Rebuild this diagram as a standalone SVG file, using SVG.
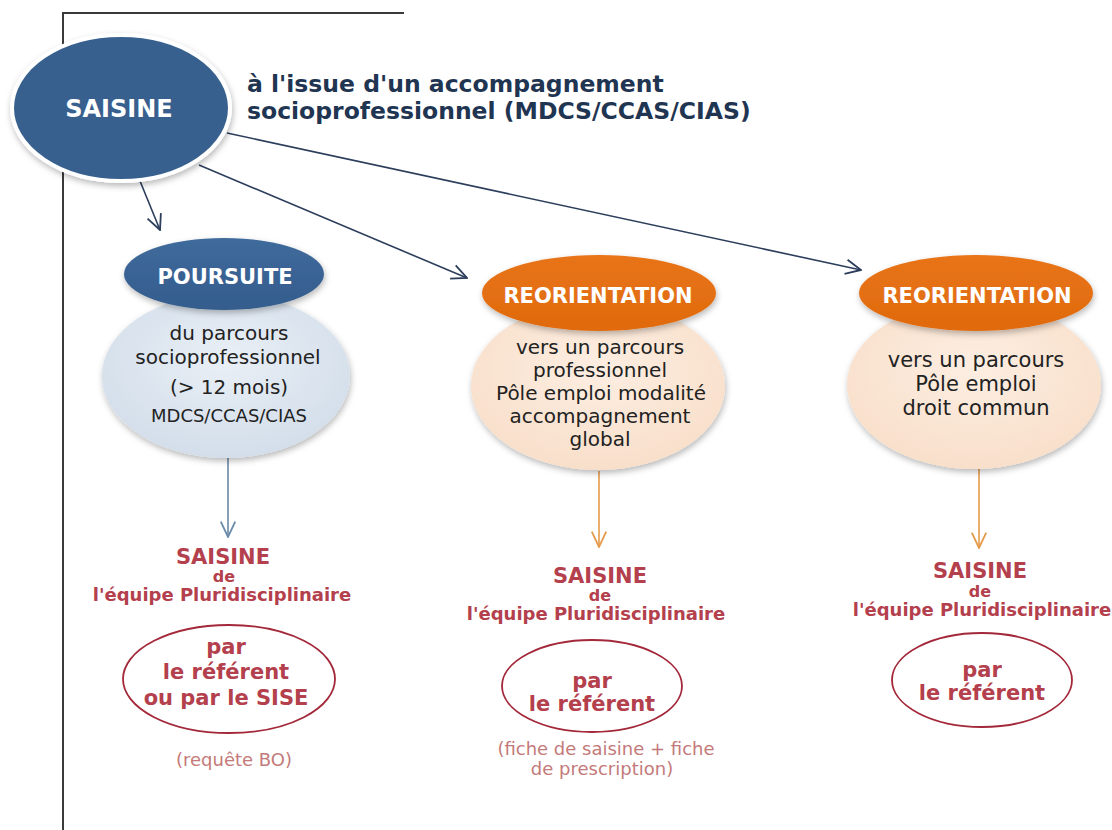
<svg xmlns="http://www.w3.org/2000/svg" width="1112" height="830" viewBox="0 0 1112 830">
<defs>
<style>
text{font-family:"DejaVu Sans",Verdana,sans-serif}
.w{fill:#fff;font-weight:bold;font-size:21px;text-anchor:middle}
.body{fill:#222;text-anchor:middle}
.red{fill:#b3404c;font-weight:bold;text-anchor:middle}
.note{fill:#c47a7a;font-size:18px;text-anchor:middle}
.frame{stroke:#3a3a3a;stroke-width:2;fill:none}
.c-navy{stroke:#2c3e5c;stroke-width:1.6;fill:none}
.c-blue{stroke:#6a8aa8;stroke-width:1.6;fill:none}
.c-orange{stroke:#e59a4a;stroke-width:1.6;fill:none}
.redell{fill:none;stroke:#a3283a;stroke-width:1.8}
.lightblue{fill:url(#gLB)}
.lightorange{fill:url(#gLO)}
.darkblue{fill:url(#gDB)}
.orange{fill:url(#gOR)}
</style>
<radialGradient id="gLB" cx="50%" cy="40%" r="60%"><stop offset="0" stop-color="#e9eff6"/><stop offset="1" stop-color="#d3deea"/></radialGradient>
<radialGradient id="gLO" cx="50%" cy="40%" r="60%"><stop offset="0" stop-color="#fdeee2"/><stop offset="1" stop-color="#f8dfca"/></radialGradient>
<linearGradient id="gDB" x1="0" y1="0" x2="0" y2="1"><stop offset="0" stop-color="#3f6a9c"/><stop offset="1" stop-color="#345c8c"/></linearGradient>
<linearGradient id="gOR" x1="0" y1="0" x2="0" y2="1"><stop offset="0" stop-color="#e8741a"/><stop offset="1" stop-color="#e06a0c"/></linearGradient>
<filter id="sh" x="-20%" y="-20%" width="140%" height="150%"><feDropShadow dx="1" dy="3" stdDeviation="3" flood-color="#000" flood-opacity="0.28"/></filter>
<marker id="aNavy" viewBox="0 0 10 10" refX="9.5" refY="5" markerWidth="18" markerHeight="18" markerUnits="userSpaceOnUse" orient="auto"><path d="M1,1 L9.5,5 L1,9" fill="none" stroke="#2c3e5c" stroke-width="1"/></marker>
<marker id="aBlue" viewBox="0 0 10 10" refX="9.5" refY="5" markerWidth="18" markerHeight="18" markerUnits="userSpaceOnUse" orient="auto"><path d="M1,1 L9.5,5 L1,9" fill="none" stroke="#6a8aa8" stroke-width="1"/></marker>
<marker id="aOrange" viewBox="0 0 10 10" refX="9.5" refY="5" markerWidth="18" markerHeight="18" markerUnits="userSpaceOnUse" orient="auto"><path d="M1,1 L9.5,5 L1,9" fill="none" stroke="#e59a4a" stroke-width="1"/></marker>
</defs>
<rect width="1112" height="830" fill="#fff"/>
<path class="frame" d="M404,13 H63 V830"/>

<g id="connectors">
<path class="c-navy" d="M140,181 L160,230" marker-end="url(#aNavy)"/>
<path class="c-navy" d="M199,165 L467,278" marker-end="url(#aNavy)"/>
<path class="c-navy" d="M227,133 L861,270" marker-end="url(#aNavy)"/>
<path class="c-blue" d="M228,457 V537" marker-end="url(#aBlue)"/>
<path class="c-orange" d="M599,471 V547" marker-end="url(#aOrange)"/>
<path class="c-orange" d="M979,469 V548" marker-end="url(#aOrange)"/>
</g>

<g id="saisine">
<ellipse cx="121" cy="108" rx="109" ry="73" fill="#38618f" stroke="#fff" stroke-width="4" filter="url(#sh)"/>
<text x="119" y="117" class="w" style="font-size:24px">SAISINE</text>
</g>

<g id="saisine-label">
<text x="247" y="92" style="fill:#1f3552;font-weight:bold;font-size:23.5px">à l'issue d'un accompagnement</text>
<text x="247" y="119" style="fill:#1f3552;font-weight:bold;font-size:23.5px">socioprofessionnel (MDCS/CCAS/CIAS)</text>
</g>

<g id="poursuite">
<ellipse cx="226" cy="376" rx="124" ry="82" class="lightblue" filter="url(#sh)"/>
<ellipse cx="224" cy="274" rx="100" ry="36" class="darkblue" filter="url(#sh)"/>
<text x="225" y="284" class="w">POURSUITE</text>
<text class="body" style="font-size:20px"><tspan x="229" y="340">du parcours</tspan><tspan x="228" y="364">socioprofessionnel</tspan><tspan x="229" y="394">(&gt; 12 mois)</tspan></text>
<text x="229" y="422" class="body" style="font-size:18px">MDCS/CCAS/CIAS</text>
</g>

<g id="reorientation1">
<ellipse cx="598" cy="386" rx="127" ry="84" class="lightorange" filter="url(#sh)"/>
<ellipse cx="599" cy="293" rx="117" ry="38" class="orange" filter="url(#sh)"/>
<text x="598" y="303" class="w">REORIENTATION</text>
<text class="body" style="font-size:20px"><tspan x="600" y="354">vers un parcours</tspan><tspan x="600" y="377">professionnel</tspan><tspan x="601" y="400">Pôle emploi modalité</tspan><tspan x="600" y="423">accompagnement</tspan><tspan x="600" y="446">global</tspan></text>
</g>

<g id="reorientation2">
<ellipse cx="974" cy="385" rx="127" ry="84" class="lightorange" filter="url(#sh)"/>
<ellipse cx="976" cy="293" rx="117" ry="38" class="orange" filter="url(#sh)"/>
<text x="977" y="303" class="w">REORIENTATION</text>
<text class="body" style="font-size:21px"><tspan x="976" y="367">vers un parcours</tspan><tspan x="976" y="391">Pôle emploi</tspan><tspan x="976" y="415">droit commun</tspan></text>
</g>

<g id="saisine-ep1">
<text x="223" y="564" class="red" style="font-size:21px">SAISINE</text>
<text x="224" y="582" class="red" style="font-size:16px">de</text>
<text x="222" y="601" class="red" style="font-size:18px">l'équipe Pluridisciplinaire</text>
</g>
<g id="referent1">
<ellipse cx="229" cy="679" rx="106" ry="54" class="redell"/>
<text class="red" style="font-size:21px"><tspan x="226" y="654">par</tspan><tspan x="226" y="679">le référent</tspan><tspan x="226" y="705">ou par le SISE</tspan></text>
</g>
<g id="note1">
<text x="234" y="766" class="note">(requête BO)</text>
</g>

<g id="saisine-ep2">
<text x="600" y="583" class="red" style="font-size:21px">SAISINE</text>
<text x="600" y="601" class="red" style="font-size:16px">de</text>
<text x="596" y="620" class="red" style="font-size:18px">l'équipe Pluridisciplinaire</text>
</g>
<g id="referent2">
<ellipse cx="592" cy="686" rx="90" ry="46" class="redell"/>
<text class="red" style="font-size:21px"><tspan x="592" y="688">par</tspan><tspan x="592" y="711">le référent</tspan></text>
</g>
<g id="note2">
<text class="note"><tspan x="606" y="755">(fiche de saisine + fiche</tspan><tspan x="602" y="775">de prescription)</tspan></text>
</g>

<g id="saisine-ep3">
<text x="980" y="578" class="red" style="font-size:21px">SAISINE</text>
<text x="980" y="597" class="red" style="font-size:16px">de</text>
<text x="982" y="616" class="red" style="font-size:18px">l'équipe Pluridisciplinaire</text>
</g>
<g id="referent3">
<ellipse cx="982" cy="680" rx="90" ry="47" class="redell"/>
<text class="red" style="font-size:21px"><tspan x="982" y="677">par</tspan><tspan x="982" y="700">le référent</tspan></text>
</g>
</svg>
